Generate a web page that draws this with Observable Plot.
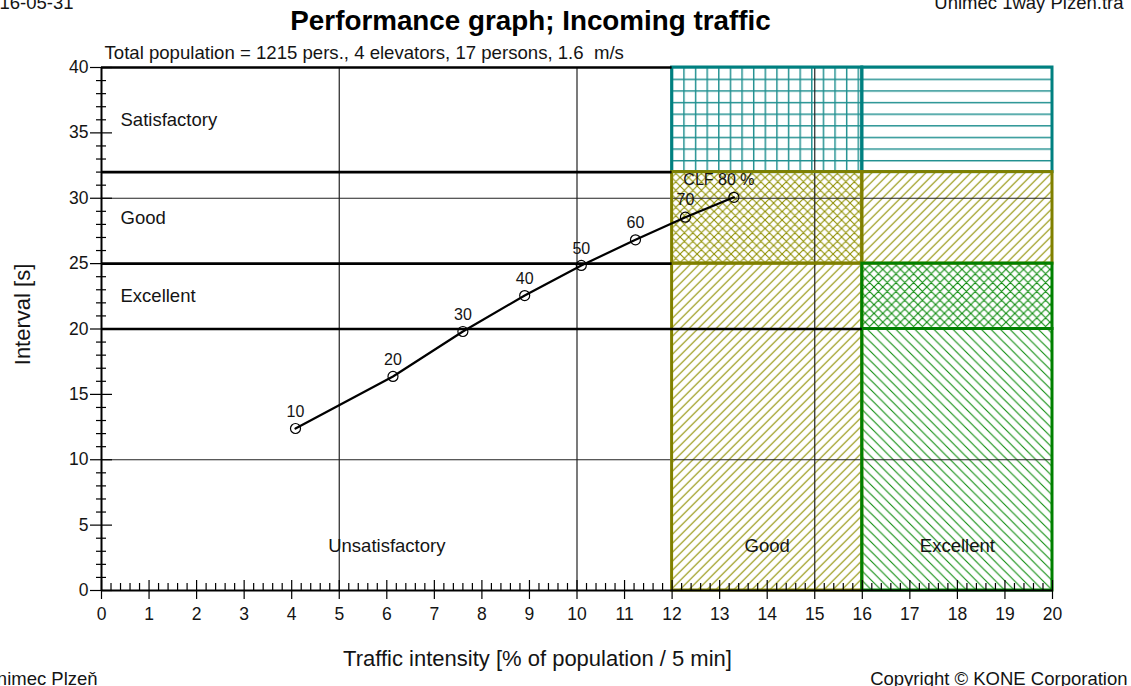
<!DOCTYPE html>
<html>
<head>
<meta charset="utf-8">
<script src="https://cdn.jsdelivr.net/npm/d3@7"></script>
<script src="https://cdn.jsdelivr.net/npm/@observablehq/plot@0.6"></script>
<style>
  html, body { margin: 0; padding: 0; background: #fff; }
  #chart { width: 1131px; height: 686px; overflow: hidden; }
</style>
</head>
<body>
<div id="chart"></div>
<script>
// ---------- texts ----------
const titleText = "Performance graph; Incoming traffic";
const subtitleText = "Total population = 1215 pers., 4 elevators, 17 persons, 1.6  m/s";
const xTitle = "Traffic intensity [% of population / 5 min]";
const yTitle = "Interval [s]";
const dateText = "2016-05-31";
const fileText = "Unimec 1way Plzen.tra";
const siteText = "Unimec Plzeň";
const copyrightText = "Copyright © KONE Corporation";

// ---------- axes ----------
const xTicks = [0, 1, 2, 3, 4, 5, 6, 7, 8, 9, 10, 11, 12, 13, 14, 15, 16, 17, 18, 19, 20];
const yTicks = [0, 5, 10, 15, 20, 25, 30, 35, 40];
const gridX = [5, 10, 15];
const gridY = [10, 30];

// ---------- performance curve (car load %, traffic intensity %, interval s) ----------
const carLoad = [10, 20, 30, 40, 50, 60, 70, 80];
const intensity = [4.08, 6.13, 7.60, 8.90, 10.09, 11.23, 12.28, 13.30];
const interval = [12.39, 16.37, 19.81, 22.56, 24.86, 26.82, 28.55, 30.07];
const pointLabels = ["10", "20", "30", "40", "50", "60", "70", "CLF 80 %"];

// ---------- rating bands ----------
const intervalBandNames = ["Excellent", "Good", "Satisfactory"];
const intervalBandLow = [20, 25, 32];
const intervalBandHigh = [25, 32, 40];
const intensityBandNames = ["Unsatisfactory", "Good", "Excellent"];
const intensityBandLow = [0, 12, 16];
const intensityBandHigh = [12, 16, 20];

// ---------- combined zones (intensity class x interval class) ----------
const zoneIntensity = ["Good", "Excellent", "Good", "Good", "Excellent", "Excellent", "Excellent"];
const zoneInterval = ["Satisfactory", "Satisfactory", "Good", "Excellent", "Good", "Excellent", "Below"];
const zoneX1 = [12, 16, 12, 12, 16, 16, 16];
const zoneX2 = [16, 20, 16, 16, 20, 20, 20];
const zoneY1 = [32, 32, 25, 0, 25, 20, 0];
const zoneY2 = [40, 40, 32, 25, 32, 25, 20];

// ---------- tables ----------
const points = carLoad.map((c, i) => ({load: c, x: intensity[i], y: interval[i], label: pointLabels[i]}));
const zones = zoneX1.map((_, i) => ({
  key: zoneIntensity[i] + "/" + zoneInterval[i],
  x1: zoneX1[i], x2: zoneX2[i], y1: zoneY1[i], y2: zoneY2[i]
}));
const intervalBands = intervalBandNames.map((n, i) => ({name: n, y: (intervalBandLow[i] + intervalBandHigh[i]) / 2}));
const intensityBands = intensityBandNames.map((n, i) => ({name: n, x: (intensityBandLow[i] + intensityBandHigh[i]) / 2}));
const boundaries = [...intervalBandLow, intervalBandHigh[intervalBandHigh.length - 1]];

// ---------- styles ----------
const TEAL = "#008080", OLIVE = "#808000", GREEN = "#008000";
const zoneStyle = {
  "Good/Satisfactory": {pattern: "tealGrid", stroke: TEAL},
  "Excellent/Satisfactory": {pattern: "tealH", stroke: TEAL},
  "Good/Good": {pattern: "oliveX", stroke: OLIVE},
  "Good/Excellent": {pattern: "oliveD", stroke: OLIVE},
  "Excellent/Good": {pattern: "oliveD", stroke: OLIVE},
  "Excellent/Excellent": {pattern: "greenX", stroke: GREEN},
  "Excellent/Below": {pattern: "greenB", stroke: GREEN}
};
const FONT = "Liberation Sans, Arial, sans-serif";
const INK = "#141414";

const xMinor = d3.range(0, 20.001, 0.2).map(v => Math.round(v * 10) / 10).filter(v => !Number.isInteger(v));
const yMinor = d3.range(0, 41, 1).filter(v => v % 5 !== 0);

const zoneFill = zones.map(z => Plot.rect([z], {x1: "x1", x2: "x2", y1: "y1", y2: "y2", fill: `url(#${zoneStyle[z.key].pattern})`}));
const zoneBorder = zones.map(z => Plot.rect([z], {x1: "x1", x2: "x2", y1: "y1", y2: "y2", fill: "none", stroke: zoneStyle[z.key].stroke, strokeWidth: 3}));

const chart = Plot.plot({
  width: 1131,
  height: 686,
  marginLeft: 101,
  marginRight: 79,
  marginTop: 67,
  marginBottom: 96,
  x: {domain: [0, 20], axis: null},
  y: {domain: [0, 40], axis: null},
  style: {fontFamily: FONT, fontSize: "17px", color: INK, background: "#fff", overflow: "visible"},
  marks: [
    ...zoneFill,
    Plot.ruleX(gridX, {x: d => d, y1: 0, y2: 40, stroke: "#222", strokeWidth: 1.2}),
    Plot.ruleY(gridY, {y: d => d, x1: 0, x2: 20, stroke: "#222", strokeWidth: 1.2}),
    ...zoneBorder,
    Plot.ruleY(boundaries, {y: d => d, x1: 0, x2: d => (d === intervalBandLow[0] ? intensityBandHigh[1] : intensityBandLow[1]), stroke: "#000", strokeWidth: 2.6}),
    // axes lines
    Plot.ruleX([0], {x: d => d, y1: 0, y2: 40, stroke: "#000", strokeWidth: 2}),
    Plot.ruleY([0], {y: d => d, x1: 0, x2: 20, stroke: "#000", strokeWidth: 2}),
    // ticks
    Plot.ruleX(xMinor, {x: d => d, y1: 0, y2: 0, insetTop: -7, insetBottom: 0, stroke: "#000", strokeWidth: 1.2}),
    Plot.ruleX(xTicks, {x: d => d, y1: 0, y2: 0, insetTop: -10, insetBottom: -9, stroke: "#000", strokeWidth: 1.2}),
    Plot.ruleY(yMinor, {y: d => d, x1: 0, x2: 0, insetLeft: -5, insetRight: -5, stroke: "#000", strokeWidth: 1.2}),
    Plot.ruleY(yTicks, {y: d => d, x1: 0, x2: 0, insetLeft: -11, insetRight: -11, stroke: "#000", strokeWidth: 1.2}),
    Plot.text(xTicks, {x: d => d, frameAnchor: "bottom", lineAnchor: "middle", dy: 23.5, text: d => String(d), fontSize: 17.5, fill: INK}),
    Plot.text(yTicks, {y: d => d, frameAnchor: "left", dx: -13, textAnchor: "end", text: d => String(d), fontSize: 17.5, fill: INK}),
    // band names
    Plot.text(intervalBands, {y: "y", frameAnchor: "left", dx: 19, textAnchor: "start", text: "name", fontSize: 18.5, fill: INK}),
    Plot.text(intensityBands, {x: "x", frameAnchor: "bottom", lineAnchor: "middle", dy: -44.5, text: "name", fontSize: 18.5, fill: INK}),
    // curve
    Plot.line(points, {x: "x", y: "y", stroke: "#000", strokeWidth: 2.2}),
    Plot.dot(points, {x: "x", y: "y", r: 5, stroke: "#000", fill: "none", strokeWidth: 1.2}),
    Plot.text(points.slice(0, -1), {x: "x", y: "y", text: "label", dy: -17, fontSize: 16, fill: INK}),
    Plot.text(points.slice(-1), {x: "x", y: "y", text: "label", dy: -17.5, dx: -15, fontSize: 16, fill: INK}),
    // titles and captions
    Plot.text([titleText], {frameAnchor: "top", dx: -46.5, dy: -38, lineAnchor: "bottom", text: d => d, fontSize: 27.8, fontWeight: "bold", fill: "#000"}),
    Plot.text([subtitleText], {frameAnchor: "top-left", dx: 3, dy: -9, lineAnchor: "bottom", textAnchor: "start", text: d => d, fontSize: 18.6, fill: INK}),
    Plot.text([xTitle], {frameAnchor: "bottom", dx: -39.5, dy: 75, lineAnchor: "bottom", text: d => d, fontSize: 22, fill: INK}),
    Plot.text([yTitle], {frameAnchor: "left", textAnchor: "middle", lineAnchor: "middle", dx: -79, dy: -14.5, rotate: -90, text: d => d, fontSize: 22, fill: INK}),
    Plot.text([dateText], {frameAnchor: "top-left", dx: -28, dy: -59, lineAnchor: "bottom", textAnchor: "end", text: d => d, fontSize: 18.5, fill: INK}),
    Plot.text([fileText], {frameAnchor: "top-right", dx: 71, dy: -59, lineAnchor: "bottom", textAnchor: "end", text: d => d, fontSize: 18.5, fill: INK}),
    Plot.text([siteText], {frameAnchor: "bottom-left", dx: -118, dy: 94, lineAnchor: "bottom", textAnchor: "start", text: d => d, fontSize: 18.5, fill: INK}),
    Plot.text([copyrightText], {frameAnchor: "bottom-right", dx: 75, dy: 94, lineAnchor: "bottom", textAnchor: "end", text: d => d, fontSize: 18.5, fill: INK})
  ]
});

// ---------- hatch patterns ----------
const sx = chart.scale("x"), sy = chart.scale("y");
const ox = sx.apply(intensityBandLow[1]);
const oy = sy.apply(intervalBandHigh[2]);
const s = (sy.apply(intervalBandLow[2]) - sy.apply(intervalBandHigh[2])) / 9;
function diag(d) { return `M0 ${d}L${d} 0M${-d / 4} ${d / 4}l${d / 2} ${-d / 2}M${3 * d / 4} ${5 * d / 4}l${d / 2} ${-d / 2}`; }
function back(d) { return `M0 0L${d} ${d}M${-d / 4} ${3 * d / 4}l${d / 2} ${d / 2}M${3 * d / 4} ${-d / 4}l${d / 2} ${d / 2}`; }
function pat(id, w, h, x, y, d, color, sw) {
  return `<pattern id="${id}" patternUnits="userSpaceOnUse" x="${x}" y="${y}" width="${w}" height="${h}">` +
    `<path d="${d}" fill="none" stroke="${color}" stroke-width="${sw}"/></pattern>`;
}
const defs = document.createElementNS("http://www.w3.org/2000/svg", "defs");
defs.innerHTML =
  pat("tealGrid", s, s, ox, oy, `M0 0.7H${s}M0.7 0V${s}`, "#1f8f8f", 1.5) +
  pat("tealH", s, s, ox, oy, `M0 0.7H${s}`, "#1f8f8f", 1.5) +
  pat("oliveX", 8.5, 8.5, ox, oy, diag(8.5) + back(8.5), "#8f8f00", 1.1) +
  pat("oliveD", 9, 9, ox, oy, diag(9), "#8f8f00", 1.1) +
  pat("greenX", 8.8, 8.8, ox, oy, diag(8.8) + back(8.8), "#0a8a0a", 1.1) +
  pat("greenB", 9.5, 9.5, ox, oy, back(9.5), "#0a8a0a", 1.1);
chart.insertBefore(defs, chart.firstChild);

document.getElementById("chart").appendChild(chart);
</script>
</body>
</html>
